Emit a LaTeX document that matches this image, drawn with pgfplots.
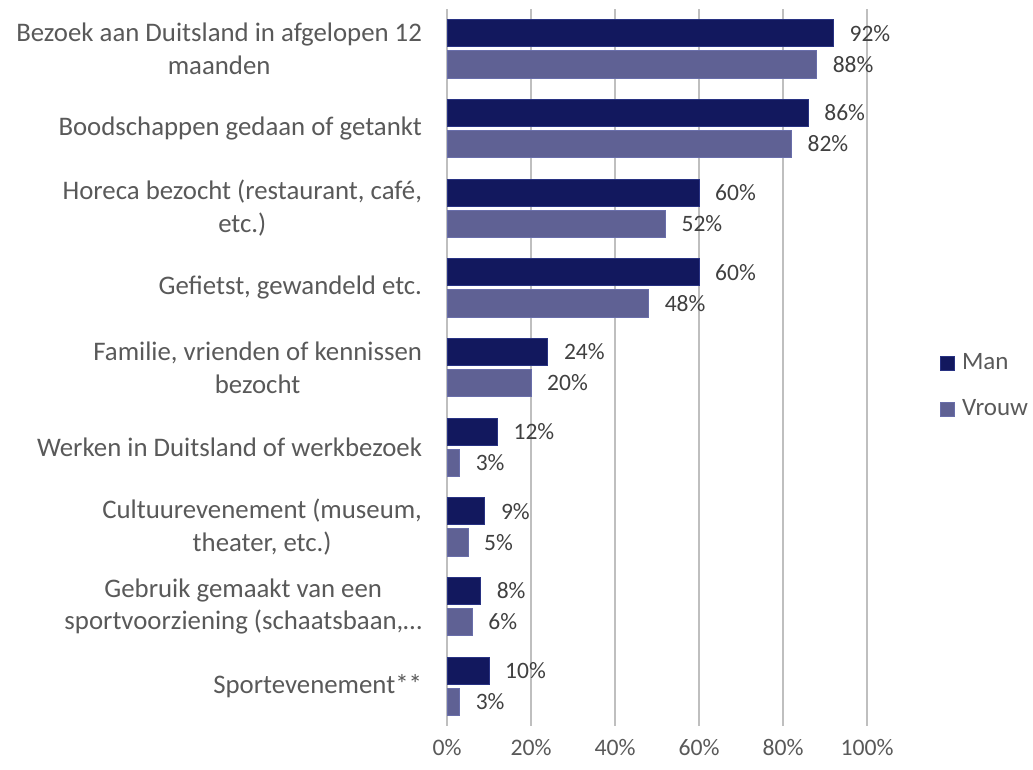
\documentclass[border=0pt]{standalone}
\usepackage{pgfplots}
\pgfplotsset{compat=1.18}
\usepackage{fontspec}
\setmainfont{Carlito}
\definecolor{man}{RGB}{18,24,94}
\definecolor{manedge}{RGB}{40,50,130}
\definecolor{vrouw}{RGB}{95,97,148}
\definecolor{vrouwedge}{RGB}{105,110,170}
\definecolor{txt}{RGB}{89,89,89}
\definecolor{lbl}{RGB}{64,64,64}
\definecolor{grid}{RGB}{217,217,217}
\begin{document}
\fontsize{23.5}{32}\selectfont
\begin{tikzpicture}[x=1pt,y=1pt]
\path[use as bounding box] (0,0) rectangle (1033,-770);
\begin{axis}[
  at={(447pt,-726pt)}, anchor=south west,
  scale only axis, width=420pt, height=717pt,
  xbar, bar width=0.34,
  xmin=0, xmax=100,
  ymin=-0.5, ymax=8.5, y dir=reverse,
  xtick={0,20,40,60,80,100},
  xticklabels={0\%,20\%,40\%,60\%,80\%,100\%},
  ytick={0,...,8},
  yticklabels={{Bezoek aan Duitsland in afgelopen 12\\maanden},
    {Boodschappen gedaan of getankt},
    {Horeca bezocht (restaurant, café,\\etc.)},
    {Gefietst, gewandeld etc.},
    {Familie, vrienden of kennissen\\bezocht},
    {Werken in Duitsland of werkbezoek},
    {Cultuurevenement (museum,\\theater, etc.)},
    {Gebruik gemaakt van een\\sportvoorziening (schaatsbaan,…},
    {Sportevenement**}},
  yticklabel style={align=center, text=txt, font=\fontsize{26.8}{32.7}\selectfont, xshift=-17pt},
  xticklabel style={text=txt, font=\fontsize{23.7}{32}\selectfont, yshift=-5pt},
  major tick length=0pt,
  xtick style={draw=none}, ytick style={draw=none},
  ymajorgrids=false, yminorgrids=false,
  axis line style={draw=none},
  xmajorgrids, major grid style={grid, line width=1.5pt},
  /pgf/number format/assume math mode=true,
  point meta=x,
  nodes near coords={\pgfmathprintnumber{\pgfplotspointmeta}\%},
  nodes near coords style={anchor=west, text=lbl, font=\fontsize{23.5}{32}\selectfont, xshift=8pt},
  legend style={at={(1.174,0.474)}, anchor=west, draw=none, fill=none,
    font=\fontsize{25}{32}\selectfont, text=txt, row sep=22pt,
    inner sep=0pt},
  legend cell align=left,
  legend image code/.code={\fill[#1] (0pt,-7pt) rectangle (14pt,7pt); \path (19pt,0pt);},
]
\addplot[fill=man, draw=manedge, line width=0.75pt, bar shift=-0.195]
  coordinates {(92,0) (86,1) (60,2) (60,3) (24,4) (12,5) (9,6) (8,7) (10,8)};
\addplot[fill=vrouw, draw=vrouwedge, line width=0.75pt, bar shift=0.195]
  coordinates {(88,0) (82,1) (52,2) (48,3) (20,4) (3,5) (5,6) (6,7) (3,8)};
\legend{Man, Vrouw}
\end{axis}
\end{tikzpicture}
\end{document}
